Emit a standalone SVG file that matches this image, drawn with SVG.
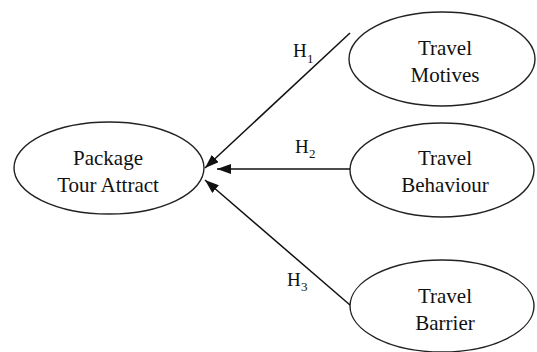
<svg xmlns="http://www.w3.org/2000/svg" width="537" height="352" viewBox="0 0 537 352">
<style>
.node ellipse{fill:#fff;stroke:#222;stroke-width:1.4}
text{font-family:'Liberation Serif','Times New Roman',serif;fill:#111}
.lbl{font-size:21px;text-anchor:middle}
.h{font-size:19px}
.sub{font-size:13px}
.conn line{stroke:#111;stroke-width:1.5}
</style>
<defs>
<marker id="arr" markerUnits="userSpaceOnUse" markerWidth="14" markerHeight="10" refX="14" refY="5" orient="auto">
<path d="M0,0 L14,5 L0,10 z" fill="#111"/>
</marker>
</defs>
<rect width="537" height="352" fill="#fff"/>
<g id="package" class="node">
<ellipse cx="109" cy="168" rx="95" ry="46"/>
<text class="lbl" x="108" y="165">Package</text>
<text class="lbl" x="108" y="192">Tour Attract</text>
</g>
<g id="motives" class="node">
<ellipse cx="442" cy="59" rx="93" ry="47"/>
<text class="lbl" x="445" y="55">Travel</text>
<text class="lbl" x="445" y="82">Motives</text>
</g>
<g id="behaviour" class="node">
<ellipse cx="442" cy="170" rx="92" ry="47"/>
<text class="lbl" x="445" y="165">Travel</text>
<text class="lbl" x="445" y="192">Behaviour</text>
</g>
<g id="barrier" class="node">
<ellipse cx="442" cy="306" rx="92" ry="46"/>
<text class="lbl" x="445" y="303">Travel</text>
<text class="lbl" x="445" y="330">Barrier</text>
</g>
<g id="connectors" class="conn">
<line x1="350" y1="33" x2="205" y2="168" marker-end="url(#arr)"/>
<line x1="350" y1="169" x2="217" y2="169" marker-end="url(#arr)"/>
<line x1="350" y1="305" x2="205" y2="180" marker-end="url(#arr)"/>
<text class="h" x="293" y="57">H<tspan class="sub" x="307" y="63">1</tspan></text>
<text class="h" x="295" y="153">H<tspan class="sub" x="309" y="158">2</tspan></text>
<text class="h" x="287" y="286">H<tspan class="sub" x="301" y="291">3</tspan></text>
</g>
</svg>
